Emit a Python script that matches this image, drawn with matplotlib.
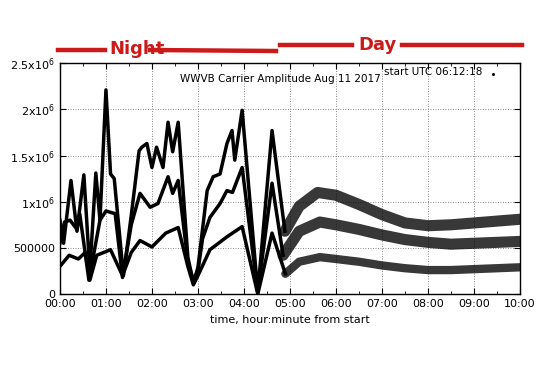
import numpy as np
import matplotlib
matplotlib.use('Agg')
import matplotlib.pyplot as plt
from matplotlib.lines import Line2D

# hours from start, amplitude in units of 1e6
t_up = [0.0, 0.08, 0.24, 0.37, 0.52, 0.65, 0.78, 0.87, 1.0, 1.1, 1.18, 1.38,
        1.55, 1.72, 1.78, 1.89, 2.0, 2.1, 2.24, 2.35, 2.45, 2.57, 2.78, 2.9,
        3.0, 3.2, 3.33, 3.48, 3.63, 3.74, 3.8, 3.96, 4.3, 4.61, 4.89, 5.2,
        5.6, 6.0, 6.5, 7.0, 7.5, 8.0, 8.5, 9.0, 9.5, 10.0]
a_up = [0.8, 0.55, 1.23, 0.68, 1.29, 0.25, 1.31, 0.8, 2.21, 1.3, 1.25, 0.2,
        0.85, 1.55, 1.59, 1.63, 1.37, 1.59, 1.37, 1.86, 1.54, 1.86, 0.4, 0.12,
        0.29, 1.12, 1.27, 1.3, 1.63, 1.77, 1.45, 1.99, 0.02, 1.77, 0.68, 0.95,
        1.1, 1.07, 0.97, 0.86, 0.77, 0.74, 0.75, 0.77, 0.79, 0.81]

t_mid = [0.0, 0.1, 0.22, 0.37, 0.43, 0.63, 0.87, 1.0, 1.2, 1.36, 1.55, 1.74,
         1.96, 2.13, 2.35, 2.45, 2.57, 2.78, 2.9, 3.0, 3.1, 3.26, 3.48, 3.63,
         3.75, 3.96, 4.3, 4.61, 4.85, 5.2, 5.65, 6.0, 6.5, 7.0, 7.5, 8.0, 8.5,
         9.0, 9.5, 10.0]
a_mid = [0.55, 0.78, 0.8, 0.7, 0.87, 0.15, 0.8, 0.9, 0.87, 0.18, 0.75, 1.09,
         0.94, 0.98, 1.27, 1.09, 1.23, 0.35, 0.15, 0.25, 0.6, 0.83, 0.98, 1.12,
         1.1, 1.37, 0.02, 1.2, 0.42, 0.68, 0.78, 0.75, 0.7, 0.64, 0.59, 0.56,
         0.54, 0.55, 0.56, 0.57]

t_low = [0.0, 0.2, 0.4, 0.55, 0.65, 0.8, 1.1, 1.36, 1.55, 1.74, 2.0, 2.3,
         2.57, 2.78, 2.9, 3.0, 3.26, 3.63, 3.96, 4.3, 4.61, 4.9, 5.2, 5.65,
         6.0, 6.5, 7.0, 7.5, 8.0, 8.5, 9.0, 9.5, 10.0]
a_low = [0.3, 0.42, 0.38, 0.45, 0.15, 0.42, 0.48, 0.2, 0.45, 0.58, 0.51, 0.66,
         0.72, 0.3, 0.1, 0.2, 0.48, 0.62, 0.73, 0.0, 0.66, 0.22, 0.35, 0.4,
         0.38, 0.35, 0.31, 0.28, 0.26, 0.26, 0.27, 0.28, 0.29]

xticklabels = ['%02d:00' % h for h in range(11)]
yticks = [0, 0.5, 1.0, 1.5, 2.0, 2.5]
yticklabels = ['0', '500000', r'1x10$^6$', r'1.5x10$^6$', r'2x10$^6$', r'2.5x10$^6$']

fig = plt.figure(figsize=(5.4, 3.78), dpi=100)
ax = fig.add_axes([0.111, 0.222, 0.852, 0.611])

# night part thin, daytime bands are wide clouds of points
day_start = 4.85
for t, a, w in [(t_up, a_up, 8), (t_mid, a_mid, 8), (t_low, a_low, 6)]:
    t = np.array(t)
    a = np.array(a) * 1e6
    day = t >= day_start
    night = ~day
    night[np.argmax(day)] = True  # join up with first day point
    ax.plot(t[night], a[night], color='black', lw=2.5, zorder=3)
    ax.plot(t[day], a[day], color='black', lw=w, alpha=0.78,
            solid_capstyle='round', solid_joinstyle='round', zorder=3)

ax.set_xlim(0, 10)
ax.set_ylim(0, 2.5e6)
ax.set_xticks(range(11))
ax.set_xticklabels(xticklabels, fontsize=8)
ax.set_xticks(np.arange(0.5, 10, 1), minor=True)
ax.set_yticks([v * 1e6 for v in yticks])
ax.set_yticklabels(yticklabels, fontsize=8)
ax.tick_params(which='both', direction='in', top=True, right=True)
ax.tick_params(which='major', length=4)
ax.tick_params(which='minor', length=2)
ax.grid(True, linestyle=(0, (1, 2)), color='#666666', lw=0.6)
for s in ax.spines.values():
    s.set_linewidth(1.0)
ax.set_xlabel('time, hour:minute from start', fontsize=8, labelpad=4)

ax.text(0.698, 0.93, 'WWVB Carrier Amplitude Aug 11 2017', transform=ax.transAxes,
        ha='right', va='center', fontsize=7.5)
ax.text(0.705, 0.962, 'start UTC 06:12:18', transform=ax.transAxes,
        ha='left', va='center', fontsize=7.5)
ax.plot([0.941], [0.952], marker='s', ms=1, color='black', transform=ax.transAxes)

# red hand-drawn annotations
red = '#cc1a1a'
H = 378.0
W = 540.0
def red_line(x0, y0, x1, y1):
    fig.add_artist(Line2D([x0 / W, x1 / W], [1 - y0 / H, 1 - y1 / H],
                          color=red, lw=3.2, transform=fig.transFigure))
red_line(58, 50, 105, 50)
red_line(150, 50, 276, 51)
red_line(280, 45, 352, 45)
red_line(402, 45, 522, 45)
fig.text(137 / W, 1 - 49 / H, 'Night', color=red, fontsize=13, fontweight='bold',
         ha='center', va='center')
fig.text(377 / W, 1 - 45 / H, 'Day', color=red, fontsize=13, fontweight='bold',
         ha='center', va='center')

fig.savefig('out.png', dpi=100)
